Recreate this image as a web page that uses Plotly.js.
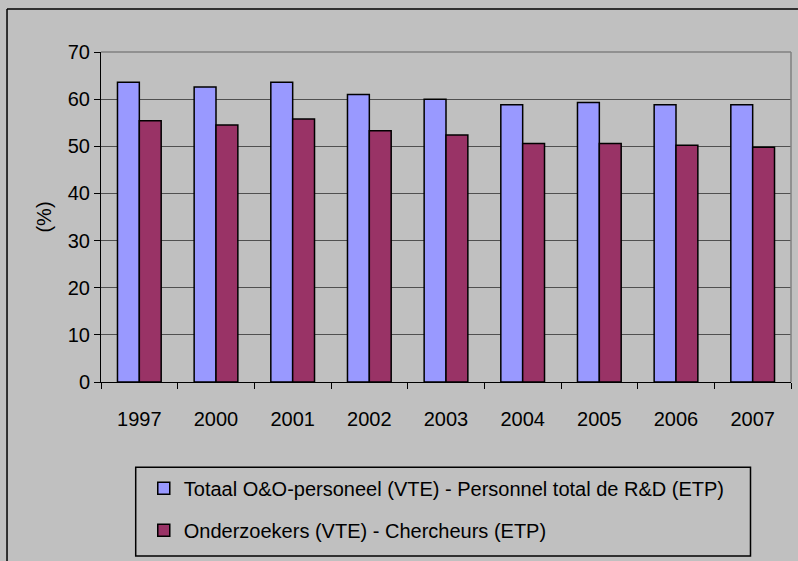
<!DOCTYPE html>
<html>
<head>
<meta charset="utf-8">
<script src="https://cdn.plot.ly/plotly-3.0.1.min.js"></script>
<style>
html,body{margin:0;padding:0;background:#c0c0c0;}
#chart{width:798px;height:561px;}
</style>
</head>
<body>
<div id="chart"></div>
<script>
var years = ['1997','2000','2001','2002','2003','2004','2005','2006','2007'];
var totalPersonnel = [63.6, 62.6, 63.6, 61.0, 60.0, 58.8, 59.3, 58.8, 58.8];
var researchers = [55.4, 54.5, 55.8, 53.3, 52.4, 50.6, 50.6, 50.2, 49.8];
var seriesNames = [
  'Totaal O&O-personeel (VTE) - Personnel total de R&D (ETP)',
  'Onderzoekers (VTE) - Chercheurs (ETP)'
];
var yTicks = [0, 10, 20, 30, 40, 50, 60, 70];

var FONT = '"Liberation Sans", Arial, sans-serif';
var FS = 20;

var traces = [
  {
    type: 'bar', x: years, y: totalPersonnel, name: seriesNames[0],
    legendgroup: 'a',
    marker: {color: '#9999FF', line: {color: '#000000', width: 1.5}},
    hoverinfo: 'x+y'
  },
  {
    type: 'bar', x: years, y: researchers, name: seriesNames[1],
    legendgroup: 'b',
    marker: {color: '#993366', line: {color: '#000000', width: 1.5}},
    hoverinfo: 'x+y'
  }
];

var layout = {
  width: 798, height: 561,
  margin: {l: 101, r: 7, t: 52, b: 179, autoexpand: false},
  paper_bgcolor: '#c0c0c0',
  plot_bgcolor: '#c0c0c0',
  font: {family: FONT, size: FS, color: '#000000'},
  barmode: 'group',
  bargap: 0.43,
  bargroupgap: 0,
  showlegend: true,
  legend: {
    x: 0.062, xanchor: 'left',
    y: -0.2627, yanchor: 'top',
    bgcolor: 'rgba(0,0,0,0)',
    borderwidth: 0,
    traceorder: 'grouped',
    tracegroupgap: 13,
    font: {family: FONT, size: FS, color: '#000000'}
  },
  xaxis: {
    type: 'category',
    automargin: false,
    showgrid: false,
    showline: true, linecolor: '#000000', linewidth: 1,
    ticks: 'outside', tickson: 'boundaries', ticklen: 6, tickcolor: '#000000',
    tickangle: 0,
    ticklabelstandoff: 19,
    tickfont: {family: FONT, size: FS, color: '#000000'},
    zeroline: false
  },
  yaxis: {
    range: [0, 70],
    automargin: false,
    tickvals: yTicks,
    ticktext: yTicks.map(String),
    showgrid: true, gridcolor: '#505050', gridwidth: 1,
    showline: true, linecolor: '#000000', linewidth: 1,
    ticks: 'outside', ticklen: 6, tickcolor: '#000000',
    tickfont: {family: FONT, size: FS, color: '#000000'},
    zeroline: false,
    title: {text: '(%)', font: {family: FONT, size: FS, color: '#000000'}, standoff: 10}
  },
  shapes: [
    {type: 'line', xref: 'paper', yref: 'paper', x0: 0, x1: 1, y0: 1, y1: 1,
     line: {color: '#808080', width: 1.5}},
    {type: 'line', xref: 'paper', yref: 'paper', x0: 1, x1: 1, y0: 0, y1: 1,
     line: {color: '#808080', width: 1.5}},
    {type: 'rect', xref: 'paper', yref: 'paper', x0: 0.0503, x1: 0.9413, y0: -0.527, y1: -0.2585,
     line: {color: '#000000', width: 1.5}, fillcolor: 'rgba(0,0,0,0)'},
    {type: 'line', xref: 'paper', yref: 'paper', x0: -0.1362, x1: 1.0101, y0: 1.1303, y1: 1.1303,
     line: {color: '#000000', width: 1.5}},
    {type: 'line', xref: 'paper', yref: 'paper', x0: -0.1362, x1: -0.1362, y0: -0.5424, y1: 1.1303,
     line: {color: '#000000', width: 1.5}}
  ]
};

Plotly.newPlot('chart', traces, layout, {displayModeBar: false, staticPlot: true});
</script>
</body>
</html>
